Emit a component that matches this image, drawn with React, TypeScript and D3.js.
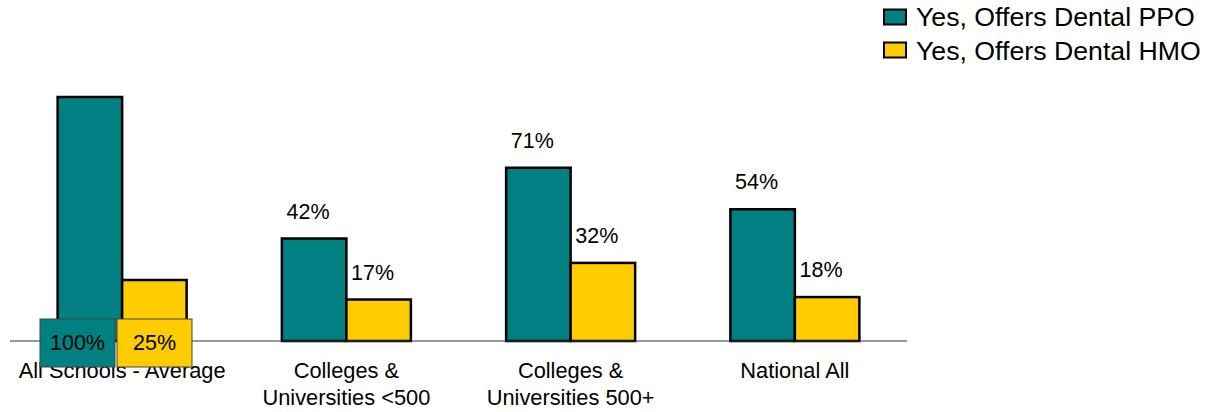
import React from "react";
import * as d3 from "d3";

const categories: string[][] = [
  ["All Schools - Average"],
  ["Colleges &", "Universities <500"],
  ["Colleges &", "Universities 500+"],
  ["National All"],
];
const seriesNames = ["Yes, Offers Dental PPO", "Yes, Offers Dental HMO"];
const ppoValues = [100, 42, 71, 54];
const hmoValues = [25, 17, 32, 18];
const seriesColors = ["#008080", "#FFCC00"];

const W = 1205;
const H = 412;
const FONT = "'Liberation Sans', Arial, sans-serif";

export default function App() {
  const x0 = d3
    .scaleBand<number>()
    .domain(categories.map((_, i) => i))
    .range([10, 907]);
  const x1 = d3.scaleBand<number>().domain([0, 1]).range([0, 129]);
  const y = d3.scaleLinear().domain([0, 100]).range([341, 97]);
  const series = [ppoValues, hmoValues];

  return (
    <svg
      width={W}
      height={H}
      style={{ position: "absolute", left: 0, top: 0, background: "#fff" }}
      fontFamily={FONT}
    >
      {/* bars */}
      {categories.map((_, ci) => {
        const gx = x0(ci)! + x0.bandwidth() / 2 - 129 / 2;
        return series.map((vals, si) => (
          <rect
            key={`b${ci}-${si}`}
            x={gx + x1(si)!}
            y={y(vals[ci])}
            width={x1.bandwidth()}
            height={y(0) - y(vals[ci])}
            fill={seriesColors[si]}
            stroke="#000"
            strokeWidth={2.5}
          />
        ));
      })}
      {/* category axis */}
      <line x1={10} x2={907} y1={y(0)} y2={y(0)} stroke="#333" strokeWidth={1.2} />
      {categories.map((lines, ci) => (
        <text
          key={`c${ci}`}
          x={x0(ci)! + x0.bandwidth() / 2}
          y={378}
          textAnchor="middle"
          fontSize={21.8}
          fill="#000"
        >
          {lines.map((l, li) => (
            <tspan key={li} x={x0(ci)! + x0.bandwidth() / 2} dy={li === 0 ? 0 : 27}>
              {l}
            </tspan>
          ))}
        </text>
      ))}
      {/* value labels */}
      {categories.map((_, ci) => {
        const gx = x0(ci)! + x0.bandwidth() / 2 - 129 / 2;
        return series.map((vals, si) => {
          const cx = gx + x1(si)! + x1.bandwidth() / 2;
          const label = `${vals[ci]}%`;
          if (ci === 0) {
            // boxed labels sit on the baseline for the first group
            const bx = si === 0 ? 40 : 117;
            return (
              <g key={`l${ci}-${si}`}>
                <rect
                  x={bx}
                  y={319}
                  width={75}
                  height={48}
                  fill={seriesColors[si]}
                  stroke="#444"
                  strokeWidth={1}
                />
                <text x={bx + 37.5} y={350} textAnchor="middle" fontSize={21.5} fill="#000">
                  {label}
                </text>
              </g>
            );
          }
          return (
            <text
              key={`l${ci}-${si}`}
              x={cx - 6}
              y={y(vals[ci]) - 20}
              textAnchor="middle"
              fontSize={21.5}
              fill="#000"
            >
              {label}
            </text>
          );
        });
      })}
      {/* legend */}
      {seriesNames.map((name, i) => (
        <g key={`lg${i}`}>
          <rect
            x={884}
            y={9.5 + i * 33}
            width={22}
            height={15}
            fill={seriesColors[i]}
            stroke="#000"
            strokeWidth={2}
          />
          <text x={916} y={26 + i * 34} fontSize={26.7} fill="#000">
            {name}
          </text>
        </g>
      ))}
    </svg>
  );
}
